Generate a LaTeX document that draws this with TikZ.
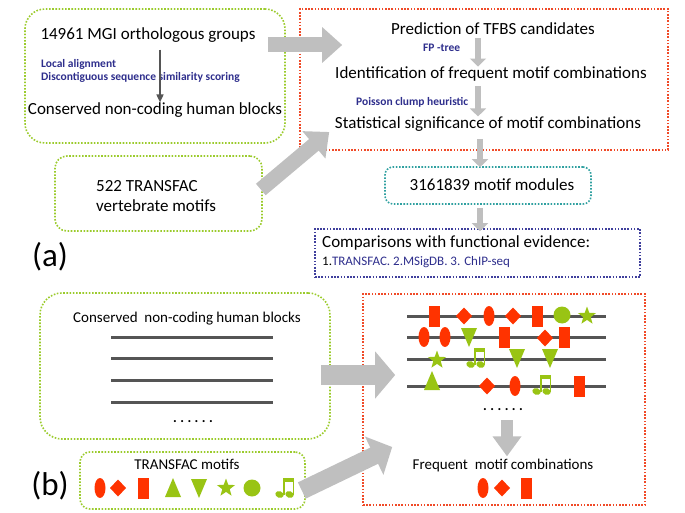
\documentclass[tikz,border=0pt]{standalone}
\usepackage{fontspec}
\setmainfont{Carlito}
\usetikzlibrary{arrows.meta}

\definecolor{boxgreen}{HTML}{9BCB2C}
\definecolor{boxred}{HTML}{F04A28}
\definecolor{boxteal}{HTML}{2FA0A0}
\definecolor{boxblue}{HTML}{3F3F9C}
\definecolor{motifred}{HTML}{FF3300}
\definecolor{motifgreen}{HTML}{99C414}
\definecolor{labelblue}{HTML}{2E2E8C}
\definecolor{arrowgray}{HTML}{BFBFBF}
\definecolor{darkline}{HTML}{555555}

\newcommand{\spaceddots}{.\hspace{3.5pt}.\hspace{3.5pt}.\hspace{3.5pt}.\hspace{3.5pt}.\hspace{3.5pt}.}

\tikzset{
  dotbox/.style={line width=1.6pt, dash pattern=on 1.6pt off 1.6pt, inner sep=0pt},
  gbox/.style={dotbox, draw=boxgreen, rounded corners=#1},
  rbox/.style={dotbox, draw=boxred},
  tbox/.style={dotbox, draw=boxteal, rounded corners=8pt},
  bbox/.style={dotbox, draw=boxblue},
  txt/.style={font=\fontsize{17}{20}\selectfont, inner sep=1pt},
  smalltxt/.style={font=\fontsize{15}{18}\selectfont, inner sep=1pt},
  method/.style={font=\fontsize{11.5}{13}\selectfont\bfseries, text=labelblue, inner sep=0pt, anchor=west},
  panel/.style={font=\fontsize{33}{36}\selectfont, inner sep=0pt},
  thinarrow/.style={line width=1.6pt, darkline, -{Triangle[width=7pt,length=8pt]}},
  midarrow/.style={line width=6pt, arrowgray, -{Triangle[width=16pt,length=8pt]}},
  bigarrow/.style={line width=#1, arrowgray, -{Triangle[width=2.3*#1,length=20pt]}},
  blockline/.style={line width=3pt, darkline},
  pics/mell/.style={code={\fill[motifred] (0,0) ellipse [x radius=5.5, y radius=10];}},
  pics/mdia/.style={code={\fill[motifred] (0,-8.5) -- (8,0) -- (0,8.5) -- (-8,0) -- cycle;}},
  pics/mrect/.style={code={\fill[motifred] (-5.5,-10.5) rectangle (5.5,10.5);}},
  pics/mtriup/.style={code={\fill[motifgreen] (0,-10) -- (8,9) -- (-8,9) -- cycle;}},
  pics/mtridown/.style={code={\fill[motifgreen] (0,10) -- (8,-9) -- (-8,-9) -- cycle;}},
  pics/mcirc/.style={code={\fill[motifgreen] (0,0) circle [radius=8.5];}},
  pics/mstar/.style={code={\fill[motifgreen] (-90:9.5) -- (-54:3.9) -- (-18:9.5) -- (18:3.9) -- (54:9.5)
      -- (90:3.9) -- (126:9.5) -- (162:3.9) -- (198:9.5) -- (234:3.9) -- cycle;}},
  pics/mnote/.style={code={
      \fill[motifgreen, rotate around={-20:(-6.5,6.5)}] (-6.5,6.5) ellipse [x radius=4.3, y radius=3.3];
      \fill[motifgreen, rotate around={-20:(3.5,6.5)}] (3.5,6.5) ellipse [x radius=4.3, y radius=3.3];
      \fill[motifgreen] (-3.2,7) rectangle (-1.4,-9);
      \fill[motifgreen] (6.6,7) rectangle (8.4,-9);
      \fill[motifgreen] (-3.2,-10) rectangle (8.4,-6);}},
}

\begin{document}
\begin{tikzpicture}[x=1pt,y=-1pt]
\useasboundingbox (0,0) rectangle (685,513);

% (a) pipeline
\node[gbox=20pt, minimum width=260pt, minimum height=134pt] (orthobox) at (155,76) {};
\node[txt] (ortho) at (148,35) {14961 MGI orthologous groups};
\node[method] (local) at (41,64) {Local alignment};
\node[method] (discont) at (41,77) {Discontiguous sequence similarity scoring};
\node[txt] (cnhb) at (155,110) {Conserved non-coding human blocks};
\draw[thinarrow] ([xshift=12pt,yshift=-6pt]ortho.south) -- ([xshift=5pt,yshift=-1pt]cnhb.north);

\node[gbox=12pt, minimum width=207pt, minimum height=75pt] (vertbox) at (158.5,193.5) {};
\node[txt, align=left, anchor=west] (vert) at (95,196) {522 TRANSFAC\\vertebrate motifs};

\node[rbox, minimum width=368pt, minimum height=141pt] (predbox) at (484,79.5) {};
\node[txt] (pred) at (493,29) {Prediction of TFBS candidates};
\node[method] (fptree) at (423,48) {FP -tree};
\node[txt] (ident) at (491,74) {Identification of frequent motif combinations};
\node[method] (poisson) at (356,102) {Poisson clump heuristic};
\node[txt] (stat) at (488,124) {Statistical significance of motif combinations};
\draw[midarrow] ([xshift=-15pt,yshift=-2pt]pred.south) -- ([xshift=-13pt,yshift=-1pt]ident.north);
\draw[midarrow] ([xshift=-13pt,yshift=-4pt]ident.south) -- ([xshift=-10pt,yshift=-1pt]stat.north);

\node[tbox, minimum width=206pt, minimum height=37pt] (modbox) at (488,185.5) {};
\node[txt] (modules) at (492,185) {3161839 motif modules};

\node[bbox, minimum width=325pt, minimum height=48pt] (evbox) at (477.5,253) {};
\node[txt, anchor=west] (evid) at (321,243) {Comparisons with functional evidence:};
\node[font=\fontsize{13}{15}\selectfont, inner sep=1pt, anchor=west] (evlist) at (321,262)
  {1.\textcolor{labelblue}{TRANSFAC. 2.MSigDB. 3. ChIP-seq}};

\draw[midarrow] ([xshift=-4pt,yshift=12pt]predbox.south) -- ([xshift=-8pt,yshift=-1pt]modbox.north);
\draw[midarrow] ([xshift=-8pt,yshift=-3pt]modbox.south) -- ([xshift=2.5pt,yshift=-3pt]evbox.north);

\draw[bigarrow=15pt] ([xshift=-18pt,yshift=31pt]orthobox.east) -- ([xshift=43pt,yshift=34.5pt]predbox.west);
\draw[bigarrow=15pt] ([xshift=-2pt,yshift=4pt]vertbox.east) -- ([xshift=30pt,yshift=-52.5pt]predbox.west);

\node[panel] (panela) at (50,257) {(a)};

% (b) sketch
\node[gbox=22pt, minimum width=290pt, minimum height=146pt] (blockbox) at (185,366) {};
\node[smalltxt] (cnhb2) at (187,319) {Conserved\ \ non-coding human blocks};
\foreach \y in {337,358,380,402}
  \draw[blockline] (111,\y) -- (273,\y);
\node[font=\fontsize{14}{14}\selectfont\bfseries, inner sep=0pt] (dotsa) at (193,422) {\spaceddots};

\node[gbox=10pt, minimum width=225pt, minimum height=57pt] (tfbox) at (192.5,480.5) {};
\node[smalltxt] (tfmot) at (187,464) {TRANSFAC motifs};
\pic at (100,488) {mell};
\pic at (118,488) {mdia};
\pic at (143,488) {mrect};
\pic at (173,488) {mtriup};
\pic at (199,488) {mtridown};
\pic at (226,488) {mstar};
\pic at (252,488) {mcirc};
\pic at (286,488) {mnote};

\node[panel] (panelb) at (50,486) {(b)};

\node[rbox, minimum width=282pt, minimum height=211pt] (combbox) at (504,399.5) {};
\foreach \y in {316,337,359,386}
  \draw[blockline] (407,\y) -- (606,\y);
% row 1
\pic at (434,316) {mrect};
\pic at (464,316) {mdia};
\pic at (489,316) {mell};
\pic at (513,316) {mdia};
\pic at (537,316) {mrect};
\pic at (562,315) {mcirc};
\pic at (587,316) {mstar};
% row 2
\pic at (424,337) {mell};
\pic at (445,337) {mell};
\pic at (469,337) {mtridown};
\pic at (504,337) {mrect};
\pic at (545,338) {mdia};
\pic at (564,337) {mrect};
% row 3
\pic at (437,360) {mstar};
\pic at (477,358) {mnote};
\pic at (517,358) {mtridown};
\pic at (550,358) {mtridown};
% row 4
\pic at (432,381) {mtriup};
\pic at (487,386) {mdia};
\pic at (515,386) {mell};
\pic at (543,385) {mnote};
\pic at (579,386) {mrect};

\node[font=\fontsize{14}{14}\selectfont\bfseries, inner sep=0pt] (dotsb) at (503,410) {\spaceddots};
\node[smalltxt] (freq) at (503,465) {Frequent\ \ motif combinations};
\draw[bigarrow=12pt] ([xshift=4pt,yshift=-9pt]dotsb.south) -- ([xshift=4pt,yshift=1pt]freq.north);
\pic at (483,488) {mell};
\pic at (502,488) {mdia};
\pic at (526,488) {mrect};

\draw[bigarrow=20pt] ([xshift=-10pt,yshift=-9pt]blockbox.east) -- ([xshift=33pt,yshift=24.5pt]combbox.west);
\draw[bigarrow=18pt] ([xshift=-4pt,yshift=-10pt]tfbox.east) -- ([xshift=30pt,yshift=-47.5pt]combbox.west);
\end{tikzpicture}
\end{document}
